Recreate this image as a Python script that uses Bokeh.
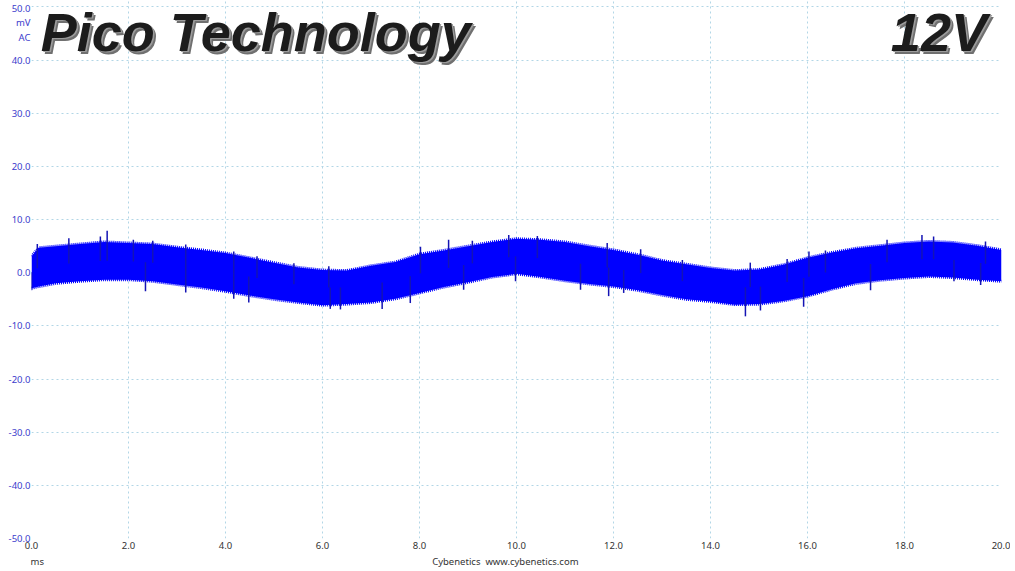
import numpy as np
from bokeh.embed import file_html
from bokeh.models import FixedTicker, Label, LinearAxis, PrintfTickFormatter
from bokeh.plotting import figure
from bokeh.resources import INLINE

# ripple trace: upper / lower edge of the noise band (mV)
t_ms = [0.0, 0.15, 0.5, 1.0, 1.5, 2.0, 2.5, 3.0, 3.5, 4.0, 4.5, 5.0, 5.5, 6.0, 6.5,
        7.0, 7.5, 8.0, 8.5, 9.0, 9.5, 10.0, 10.5, 11.0, 11.5, 12.0, 12.5, 13.0,
        13.5, 14.0, 14.5, 15.0, 15.5, 16.0, 16.5, 17.0, 17.5, 18.0, 18.5, 19.0,
        19.5, 20.0]
upper_mv = [3.1, 4.7, 5.0, 5.4, 5.8, 5.6, 5.4, 4.8, 4.3, 3.7, 2.8, 1.9, 1.0, 0.5, 0.4,
            1.3, 2.0, 3.5, 4.2, 5.0, 5.8, 6.4, 6.2, 5.8, 5.0, 4.3, 3.4, 2.3,
            1.6, 0.9, 0.4, 0.6, 1.5, 2.8, 3.8, 4.6, 5.1, 5.6, 5.9, 5.7,
            5.1, 4.3]
lower_mv = [-2.9, -2.6, -2.0, -1.6, -1.3, -1.3, -1.6, -2.2, -2.8, -3.5, -4.3, -5.0, -5.6, -6.1, -5.9,
            -5.6, -4.9, -3.8, -2.7, -1.8, -0.8, -0.2, -0.8, -1.5, -2.1, -2.6, -3.3, -4.2,
            -5.0, -5.4, -6.0, -5.9, -5.3, -4.4, -3.1, -2.0, -1.4, -1.0, -0.7, -0.9,
            -1.3, -1.6]

# single noise spikes sticking out of the band
spike_up_t = [0.12, 0.77, 1.42, 1.56, 2.1, 2.5, 3.18, 4.17, 4.65, 5.41, 6.13,
              8.02, 8.6, 9.09, 9.84, 10.43, 11.87, 12.56,
              13.42, 14.82, 15.58, 16.03, 16.37, 17.64, 18.36, 18.6, 19.67]
spike_up_mv = [5.4, 6.5, 6.8, 7.9, 6.2, 6.0, 5.3, 4.0, 3.1, 1.8, 1.2,
               4.9, 6.2, 6.0, 7.1, 6.9, 5.6, 4.4,
               2.4, 1.9, 2.6, 4.0, 4.2, 6.2, 7.1, 6.8, 5.9]
spike_dn_t = [0.0, 2.35, 3.18, 4.17, 4.48, 6.16, 6.37, 7.23, 7.81, 8.91, 9.98,
              11.32, 11.9, 12.21, 14.72, 15.03, 15.92, 17.3, 19.02, 19.57]
spike_dn_mv = [-3.3, -3.5, -3.7, -4.9, -5.6, -6.8, -6.9, -6.8, -5.7, -3.2, -1.6,
               -3.2, -4.4, -3.8, -8.2, -7.1, -6.4, -3.3, -1.6, -2.3]

x_ticks = [0, 2, 4, 6, 8, 10, 12, 14, 16, 18, 20]
y_ticks = [-50, -40, -30, -20, -10, 0, 10, 20, 30, 40, 50]
# texts that sit in the margins, put there as extra axis labels
y_notes = {49.65: "50.0", 47.1: "mV", 44.3: "AC"}
x_notes = {0.12: "ms", 9.77: "Cybenetics\u00a0\u00a0www.cybenetics.com"}

blue = "#0000ff"
edge = "#1414b4"
label_blue = "#3b3bcc"
font = "Noto Sans"

# frame runs to the top edge; the range goes a little past 50 so the grid starts there
p = figure(width=1010, height=570, x_range=(0, 20), y_range=(-50, 51.22),
           output_backend="svg", toolbar_location=None,
           min_border_left=31, min_border_right=9, min_border_top=0,
           min_border_bottom=31)
p.outline_line_color = None
p.background_fill_color = "white"

notes_axis = LinearAxis(ticker=FixedTicker(ticks=list(x_notes)),
                        major_label_overrides=x_notes)
p.add_layout(notes_axis, "below")

for ax in p.xaxis + p.yaxis:
    ax.axis_line_color = None
    ax.major_tick_line_color = None
    ax.minor_tick_line_color = None
    ax.major_tick_out = 0
    ax.major_tick_in = 0
    ax.major_label_text_font = font
    ax.major_label_text_font_size = "9.5px"

main_x = p.xaxis[0]
main_x.ticker = FixedTicker(ticks=x_ticks)
main_x.formatter = PrintfTickFormatter(format="%.1f")
main_x.major_label_text_color = "#333333"
main_x.major_label_standoff = 3
notes_axis.major_label_text_color = "#333333"
notes_axis.major_label_standoff = 3

p.yaxis.ticker = FixedTicker(ticks=y_ticks[:-1] + list(y_notes))
p.yaxis.formatter = PrintfTickFormatter(format="%.1f")
p.yaxis.major_label_overrides = y_notes
p.yaxis.major_label_text_color = label_blue
p.yaxis.major_label_standoff = 1

p.xgrid.ticker = FixedTicker(ticks=x_ticks)
p.ygrid.ticker = FixedTicker(ticks=y_ticks)
p.grid.grid_line_color = "#b2d6e6"
p.grid.grid_line_dash = "2 3"
p.grid.grid_line_width = 1

# noise band
p.varea(x=t_ms, y1=lower_mv, y2=upper_mv, fill_color=blue)
p.line(t_ms, upper_mv, line_color=blue, line_width=3, line_dash="1 1")
p.line(t_ms, lower_mv, line_color=blue, line_width=3, line_dash="1 1")

mid = (np.array(upper_mv) + np.array(lower_mv)) / 2
p.segment(x0=spike_up_t, y0=np.interp(spike_up_t, t_ms, mid), x1=spike_up_t,
          y1=spike_up_mv, line_color=edge, line_width=1.5)
p.segment(x0=spike_dn_t, y0=np.interp(spike_dn_t, t_ms, mid), x1=spike_dn_t,
          y1=spike_dn_mv, line_color=edge, line_width=1.5)

# beveled headline text
for txt, xx, align in (("Pico Technology", 0.19, "left"), ("12V", 19.7, "right")):
    for off, col in ((3, "#707070"), (1.5, "#9c9c9c"), (0, "#1c1c1c")):
        p.add_layout(Label(x=xx, y=45.3, x_offset=off, y_offset=-off, text=txt,
                           text_font="Liberation Sans", text_font_style="bold italic",
                           text_font_size="54px", text_color=col,
                           text_align=align, text_baseline="alphabetic"))

open("out.html", "w").write(file_html(p, INLINE))
